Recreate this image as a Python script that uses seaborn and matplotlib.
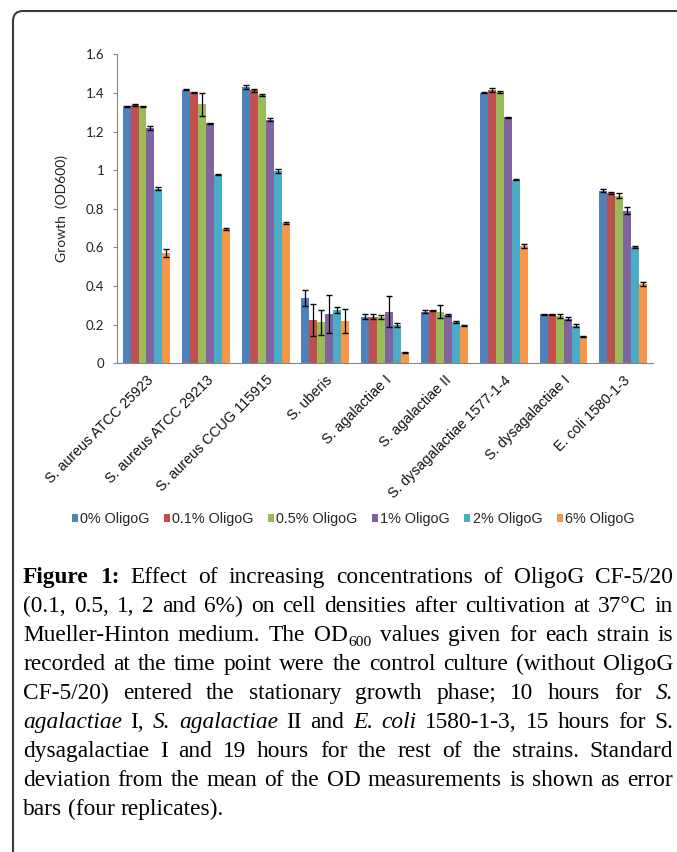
import numpy as np
import pandas as pd
import matplotlib
matplotlib.use("Agg")
import matplotlib.pyplot as plt
import seaborn as sns
from matplotlib.path import Path
from matplotlib.patches import PathPatch, Patch
from matplotlib.transforms import IdentityTransform

# ---------------- data ----------------
strains = ["S. aureus ATCC 25923", "S. aureus ATCC 29213", "S. aureus CCUG 115915",
           "S. uberis", "S. agalactiae I", "S. agalactiae II",
           "S. dysagalactiae 1577-1-4", "S. dysagalactiae I", "E. coli 1580-1-3"]
concs = ["0% OligoG", "0.1% OligoG", "0.5% OligoG", "1% OligoG", "2% OligoG", "6% OligoG"]

od_0   = [1.331, 1.417, 1.429, 0.338, 0.242, 0.268, 1.401, 0.254, 0.894]
od_01  = [1.336, 1.403, 1.414, 0.224, 0.242, 0.274, 1.415, 0.254, 0.882]
od_05  = [1.331, 1.341, 1.389, 0.212, 0.238, 0.268, 1.405, 0.247, 0.868]
od_1   = [1.217, 1.243, 1.262, 0.255, 0.268, 0.249, 1.274, 0.230, 0.790]
od_2   = [0.904, 0.977, 0.996, 0.276, 0.197, 0.214, 0.951, 0.195, 0.602]
od_6   = [0.570, 0.696, 0.728, 0.219, 0.057, 0.195, 0.606, 0.140, 0.409]

sd_0   = [0.003, 0.004, 0.010, 0.043, 0.012, 0.010, 0.003, 0.003, 0.008]
sd_01  = [0.005, 0.003, 0.008, 0.085, 0.012, 0.004, 0.010, 0.003, 0.005]
sd_05  = [0.003, 0.060, 0.004, 0.066, 0.010, 0.033, 0.003, 0.010, 0.012]
sd_1   = [0.010, 0.003, 0.006, 0.100, 0.080, 0.004, 0.003, 0.008, 0.019]
sd_2   = [0.008, 0.003, 0.010, 0.015, 0.010, 0.003, 0.003, 0.006, 0.003]
sd_6   = [0.020, 0.005, 0.005, 0.064, 0.003, 0.003, 0.010, 0.003, 0.010]

yticks = [0, 0.2, 0.4, 0.6, 0.8, 1.0, 1.2, 1.4, 1.6]
ytick_labels = ["0", "0.2", "0.4", "0.6", "0.8", "1", "1.2", "1.4", "1.6"]

caption_lines = [
    "#Figure# #1:# Effect of increasing concentrations of OligoG CF-5/20",
    "(0.1, 0.5, 1, 2 and 6%) on cell densities after cultivation at 37°C in",
    "Mueller-Hinton medium. The OD_600_ values given for each strain is",
    "recorded at the time point were the control culture (without OligoG",
    "CF-5/20) entered the stationary growth phase; 10 hours for *S.*",
    "*agalactiae* I, *S.* *agalactiae* II and *E.* *coli* 1580-1-3, 15 hours for S.",
    "dysagalactiae I and 19 hours for the rest of the strains. Standard",
    "deviation from the mean of the OD measurements is shown as error",
    "bars (four replicates).",
]

all_od = [od_0, od_01, od_05, od_1, od_2, od_6]
all_sd = [sd_0, sd_01, sd_05, sd_1, sd_2, sd_6]
colors = ["#4F81BD", "#C0504D", "#9BBB59", "#8064A2", "#4BACC6", "#F79646"]

df = pd.DataFrame({
    "strain": [s for c in concs for s in strains],
    "conc": [c for c in concs for s in strains],
    "od": [v for vals in all_od for v in vals],
})

# ---------------- figure ----------------
W, H = 677, 852
sns.set_theme(style="white")
plt.rcParams["font.family"] = ["Liberation Sans", "DejaVu Sans"]

fig = plt.figure(figsize=(W / 100, H / 100), dpi=100)
fig.patch.set_facecolor("white")

ax_l, ax_r, ax_t, ax_b = 116.7, 653.0, 54.3, 363.3
ax = fig.add_axes([ax_l / W, 1 - ax_b / H, (ax_r - ax_l) / W, (ax_b - ax_t) / H])

sns.barplot(data=df, x="strain", y="od", hue="conc", order=strains, hue_order=concs,
            palette=colors, saturation=1, errorbar=None, width=0.8, linewidth=0,
            ax=ax)

bar_conts = list(ax.containers)
for i, cont in enumerate(bar_conts):
    xs = [b.get_x() + b.get_width() / 2 for b in cont]
    ys = [b.get_height() for b in cont]
    ax.errorbar(xs, ys, yerr=all_sd[i], fmt="none", ecolor="black",
                elinewidth=0.9, capsize=2.5, capthick=1.0, zorder=5)

ax.set_xlim(-0.5, len(strains) - 0.5)
ax.set_ylim(0, 1.6)
ax.set_yticks(yticks)
ax.set_yticklabels(ytick_labels, family=["Lato", "DejaVu Sans"], fontsize=9.5, color="#222222")
ax.set_xticks(range(len(strains)))
ax.set_xticklabels(strains, rotation=45, ha="right", va="top",
                   rotation_mode="anchor", fontsize=10.3, color="#111111")
ax.set_xticks(np.arange(-0.5, len(strains), 1.0), minor=True)
ax.tick_params(axis="x", which="major", length=0, pad=7)
ax.tick_params(axis="x", which="minor", length=4, width=0.8, color="#868686", direction="out")
ax.tick_params(axis="y", length=3, width=0.8, color="#868686", direction="out", pad=6, left=True)
for side in ["top", "right"]:
    ax.spines[side].set_visible(False)
for side in ["left", "bottom"]:
    ax.spines[side].set_color("#868686")
    ax.spines[side].set_linewidth(0.8)
ax.set_xlabel("")
ax.set_ylabel("")
fig.text(61.5 / W, 1 - 208.5 / H, "Growth  (OD600)", rotation=90, ha="center", va="center",
         family=["Lato", "DejaVu Sans"], fontsize=10, color="#222222")

# legend
leg = ax.get_legend()
if leg is not None:
    leg.remove()
handles = [Patch(facecolor=c, edgecolor="none") for c in colors]
fig.legend(handles, concs, loc="center", bbox_to_anchor=(353 / W, 1 - 519 / H), ncol=6,
           frameon=False, fontsize=10.4, handlelength=0.42, handleheight=0.42,
           handletextpad=0.15, columnspacing=1.0, borderaxespad=0)

# ---------------- caption (justified) ----------------
cap_fs = 16.8
cap_family = ["Liberation Serif", "DejaVu Serif"]
left_px, right_px = 23.0, 673.0
base0, line_h = 583.0, 29.0
renderer = fig.canvas.get_renderer()


def parse_word(word):
    segs, cur, style = [], "", {"b": False, "i": False, "s": False}
    marks = {"#": "b", "*": "i", "_": "s"}
    for ch in word:
        if ch in marks:
            if cur:
                segs.append((cur, dict(style)))
                cur = ""
            style[marks[ch]] = not style[marks[ch]]
        else:
            cur += ch
    if cur:
        segs.append((cur, dict(style)))
    return segs


def make_text(s, st):
    fs = cap_fs * (0.66 if st["s"] else 1.0)
    return fig.text(0, 0, s, fontsize=fs, family=cap_family,
                    weight="bold" if st["b"] else "normal",
                    style="italic" if st["i"] else "normal",
                    ha="left", va="baseline", color="black")


space_t = fig.text(0, 0, "a a", fontsize=cap_fs, family=cap_family)
aa_t = fig.text(0, 0, "aa", fontsize=cap_fs, family=cap_family)
space_w = (space_t.get_window_extent(renderer).width - aa_t.get_window_extent(renderer).width)
space_t.remove()
aa_t.remove()

for li, line in enumerate(caption_lines):
    words = line.split(" ")
    word_objs = []
    for w in words:
        items = []
        for s, st in parse_word(w):
            t = make_text(s, st)
            wd = t.get_window_extent(renderer).width
            items.append((t, wd, st))
        word_objs.append(items)
    widths = [sum(it[1] for it in items) for items in word_objs]
    total = sum(widths)
    n_gaps = len(words) - 1
    last = li == len(caption_lines) - 1
    if last or n_gaps == 0:
        gap = space_w
    else:
        gap = (right_px - left_px - total) / n_gaps
    x = left_px
    y = base0 + li * line_h
    for items, wd in zip(word_objs, widths):
        xx = x
        for t, w_, st in items:
            yy = y + (4.5 if st["s"] else 0.0)
            t.set_position((xx / W, 1 - yy / H))
            xx += w_
        x += wd + gap

# ---------------- border (top + left, rounded corner) ----------------
r = 10.0
bx, by = 13.0, H - 11.0
verts = [(bx, -10), (bx, by - r), (bx, by), (bx + r, by), (W + 10, by)]
codes = [Path.MOVETO, Path.LINETO, Path.CURVE3, Path.CURVE3, Path.LINETO]
border = PathPatch(Path(verts, codes), fill=False, edgecolor="#3a3a3a", lw=1.5,
                   transform=IdentityTransform())
fig.add_artist(border)

fig.savefig("out.png", dpi=100, facecolor="white")
